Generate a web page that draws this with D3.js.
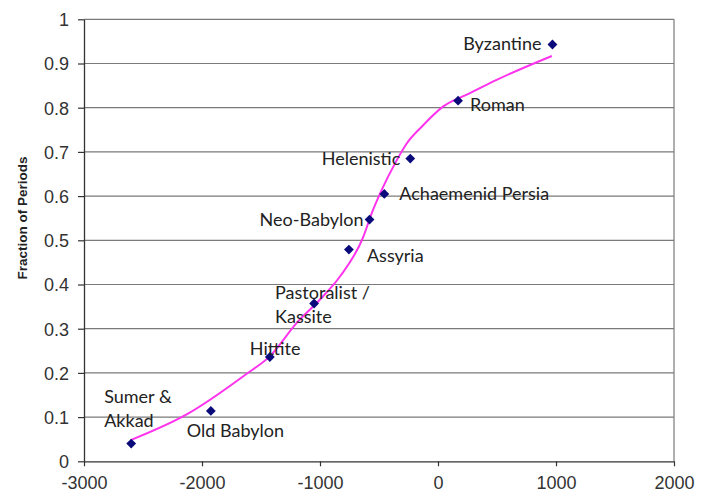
<!DOCTYPE html>
<html><head><meta charset="utf-8">
<script src="https://cdn.jsdelivr.net/npm/d3@7"></script>
<style>body{margin:0;background:#fff}svg{display:block}</style>
</head><body>
<svg id="chart" width="714" height="498"></svg>
<script>
// ---- data ----
const periods = ["Sumer & Akkad","Old Babylon","Hittite","Pastoralist / Kassite","Assyria","Neo-Babylon","Achaemenid Persia","Helenistic","Roman","Byzantine"];
const years =    [-2600, -1925, -1425, -1050, -755, -580, -455, -235, 170, 970];
const fractions = [0.04, 0.114, 0.236, 0.357, 0.479, 0.547, 0.605, 0.685, 0.816, 0.943];
// fitted trend curve
const trendX = [-2604, -2130, -1621, -1424, -1197, -1000, -831, -633, -562, -477, -364, -265, -138, 45, 271, 497, 965];
const trendY = [0.048, 0.106, 0.198, 0.238, 0.313, 0.366, 0.418, 0.508, 0.561, 0.614, 0.674, 0.719, 0.757, 0.803, 0.833, 0.863, 0.917];
const xTicks = [-3000, -2000, -1000, 0, 1000, 2000];
const yTicks = [0, 0.1, 0.2, 0.3, 0.4, 0.5, 0.6, 0.7, 0.8, 0.9, 1];
const yTitle = "Fraction of Periods";

// ---- layout ----
const L = 84, R = 674, T = 19.3, B = 461.3;
const svg = d3.select("#chart");
const x = d3.scaleLinear().domain([-3000, 2000]).range([L, R]);
const y = d3.scaleLinear().domain([0, 1]).range([B, T]);

// gridlines
svg.append("g").selectAll("line").data(yTicks.filter(d => d > 0)).join("line")
  .attr("x1", L).attr("x2", R).attr("y1", d => y(d)).attr("y2", d => y(d))
  .attr("stroke", "#7a7a7a").attr("stroke-width", 1.2);
// right border
svg.append("line").attr("x1", R).attr("x2", R).attr("y1", T).attr("y2", B)
  .attr("stroke", "#7a7a7a").attr("stroke-width", 1.2);

// axes
const yAxis = d3.axisLeft(y).tickValues(yTicks).tickFormat(d => d3.format("~g")(d)).tickSizeOuter(0).tickSizeInner(6).tickPadding(9);
const xAxis = d3.axisBottom(x).tickValues(xTicks).tickFormat(d => d).tickSizeOuter(0).tickSizeInner(5).tickPadding(10);
const gy = svg.append("g").attr("transform", `translate(${L},0)`).call(yAxis);
const gx = svg.append("g").attr("transform", `translate(0,${B})`).call(xAxis);
[gx, gy].forEach(g => {
  g.select(".domain").attr("stroke", "#333").attr("stroke-width", 1.3);
  g.selectAll(".tick line").attr("stroke", "#333").attr("stroke-width", 1.2);
  g.selectAll(".tick text").attr("fill", "#333").style("font-family", "'Liberation Sans', Arial, sans-serif").style("font-size", "18px");
});
gy.selectAll(".tick text").attr("dy", "0.36em");
gx.selectAll(".tick text").attr("dy", "0.71em");

// axis title
svg.append("text").attr("transform", `translate(26.5,218) rotate(-90)`)
  .attr("text-anchor", "middle")
  .style("font-family", "'Liberation Sans', Arial, sans-serif").style("font-size", "13.5px").style("font-weight", "bold")
  .attr("fill", "#222").text(yTitle);

// trend curve
const trend = trendX.map((d, i) => [d, trendY[i]]);
svg.append("path").datum(trend)
  .attr("d", d3.line().x(d => x(d[0])).y(d => y(d[1])).curve(d3.curveMonotoneX))
  .attr("fill", "none").attr("stroke", "#ff33ee").attr("stroke-width", 2);

// points
const pts = periods.map((p, i) => ({ name: p, x: years[i], y: fractions[i] }));
svg.append("g").selectAll("path").data(pts).join("path")
  .attr("d", d3.symbol(d3.symbolSquare, 48))
  .attr("transform", d => `translate(${x(d.x)},${y(d.y)}) rotate(45)`)
  .attr("fill", "#0a0a7a");

// labels (offsets in px relative to the marker)
const labelPlace = {
  "Sumer & Akkad": { lines: ["Sumer &", "Akkad"], dx: -27, dy: -41, anchor: "start" },
  "Old Babylon": { lines: ["Old Babylon"], dx: -24, dy: 26, anchor: "start" },
  "Hittite": { lines: ["Hittite"], dx: -20, dy: -2, anchor: "start" },
  "Pastoralist / Kassite": { lines: ["Pastoralist /", "Kassite"], dx: -39, dy: -5, anchor: "start" },
  "Assyria": { lines: ["Assyria"], dx: 18, dy: 12, anchor: "start" },
  "Neo-Babylon": { lines: ["Neo-Babylon"], dx: -6, dy: 6, anchor: "end" },
  "Achaemenid Persia": { lines: ["Achaemenid Persia"], dx: 15, dy: 6, anchor: "start" },
  "Helenistic": { lines: ["Helenistic"], dx: -10, dy: 6, anchor: "end" },
  "Roman": { lines: ["Roman"], dx: 12, dy: 10, anchor: "start" },
  "Byzantine": { lines: ["Byzantine"], dx: -11, dy: 6, anchor: "end" }
};
const lg = svg.append("g").style("font-family", "Lato, 'Open Sans', sans-serif").style("font-size", "18px").attr("fill", "#222");
pts.forEach(d => {
  const p = labelPlace[d.name];
  const t = lg.append("text").attr("text-anchor", p.anchor)
    .attr("x", x(d.x) + p.dx).attr("y", y(d.y) + p.dy);
  p.lines.forEach((ln, i) => t.append("tspan").attr("x", x(d.x) + p.dx).attr("dy", i ? 24 : 0).text(ln));
});
</script>
</body></html>
